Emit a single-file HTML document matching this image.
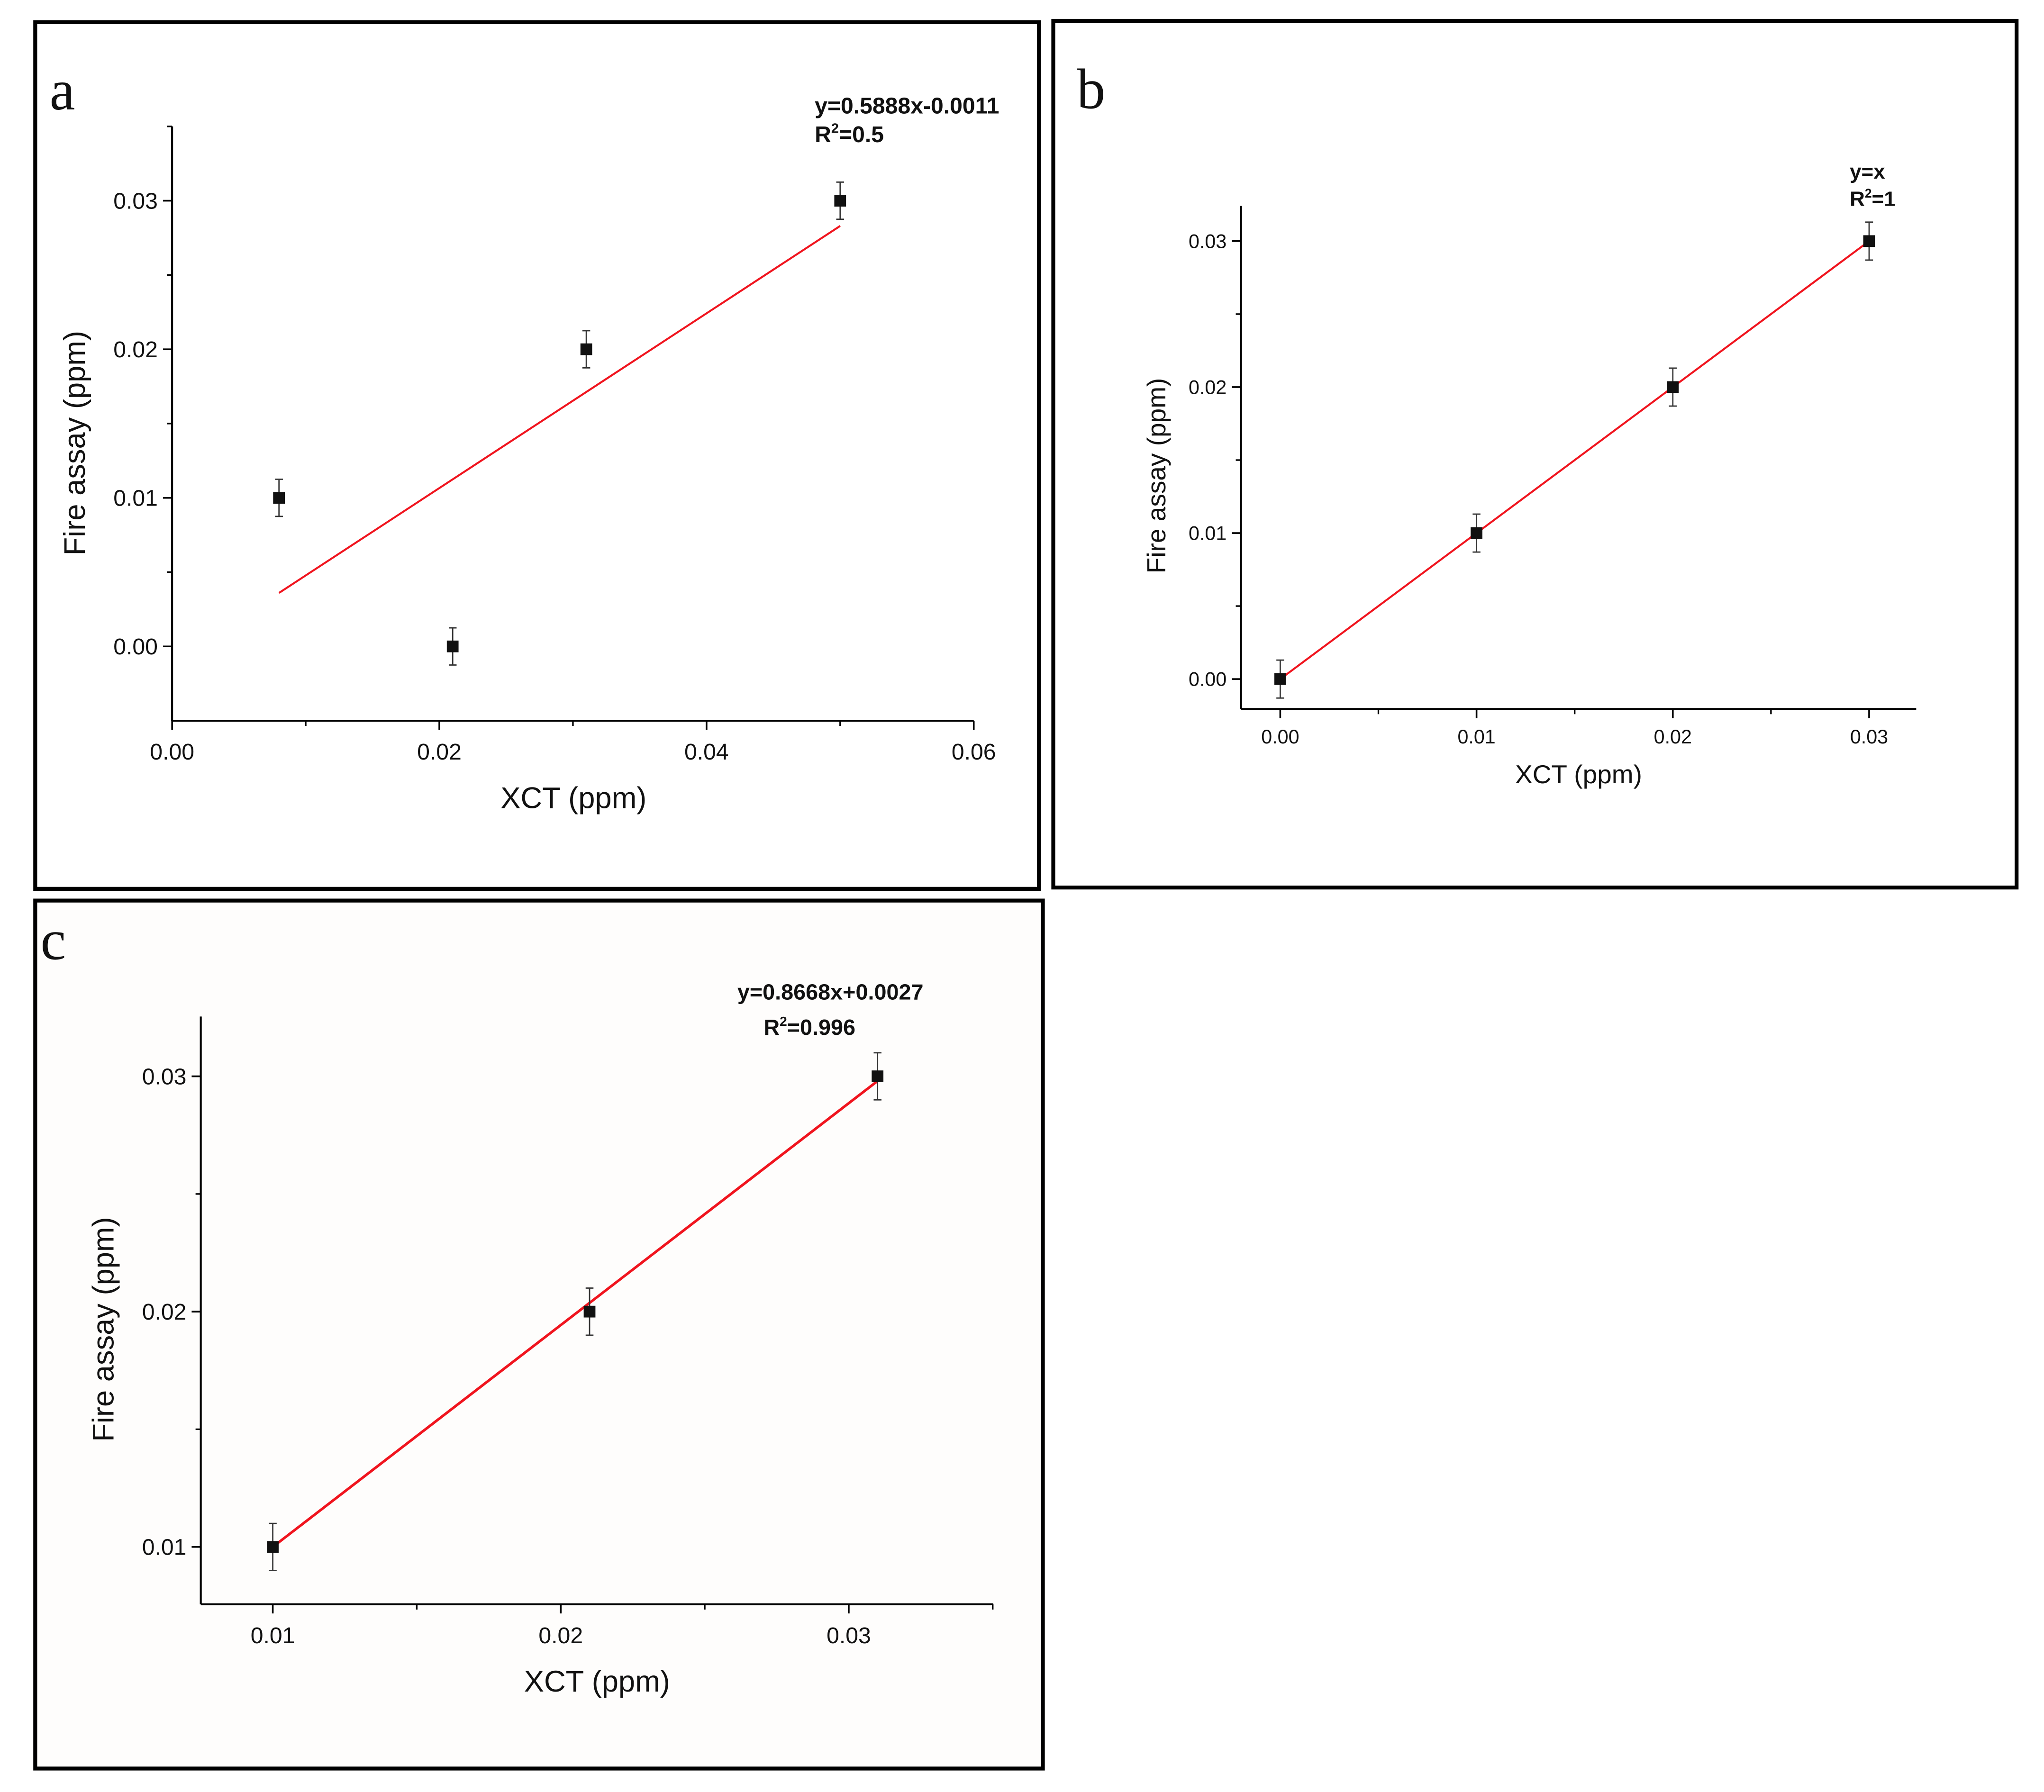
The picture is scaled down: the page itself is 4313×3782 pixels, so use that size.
<!DOCTYPE html>
<html>
<head>
<meta charset="utf-8">
<style>
html,body{margin:0;padding:0;background:#fff;}
svg{display:block;}
text{font-family:"Liberation Sans",sans-serif;fill:#111;}
</style>
</head>
<body>
<svg id="fig" width="4313" height="3782" viewBox="0 0 1568 1375" xmlns="http://www.w3.org/2000/svg">
<rect x="0" y="0" width="1568" height="1375" fill="#fff"/>
<rect x="27" y="17" width="770" height="665" fill="#fff" stroke="#000" stroke-width="3"/>
<rect x="808" y="16" width="739" height="665" fill="#fff" stroke="#000" stroke-width="3"/>
<rect x="27" y="691" width="773" height="666" fill="#fefdfc" stroke="#000" stroke-width="3"/>
<text x="38" y="84" style="font-family:'Liberation Serif',serif;font-size:44px">a</text>
<text x="826" y="83" style="font-family:'Liberation Serif',serif;font-size:44px">b</text>
<text x="31" y="736" style="font-family:'Liberation Serif',serif;font-size:44px">c</text>
<g id="plots"></g>
</svg>
<script>
// Panel a data
const aX = [0.008, 0.021, 0.031, 0.05];
const aY = [0.01, 0.0, 0.02, 0.03];
const aErr = [0.00125, 0.00125, 0.00125, 0.00125];
const aFitX = [0.008, 0.05];
const aFitY = [0.0036, 0.0283];
const aXTicks = ["0.00", "0.02", "0.04", "0.06"];
const aYTicks = ["0.00", "0.01", "0.02", "0.03"];
// Panel b data
const bX = [0.0, 0.01, 0.02, 0.03];
const bY = [0.0, 0.01, 0.02, 0.03];
const bErr = [0.0013, 0.0013, 0.0013, 0.0013];
const bFitX = [0.0, 0.03];
const bFitY = [0.0, 0.03];
const bXTicks = ["0.00", "0.01", "0.02", "0.03"];
const bYTicks = ["0.00", "0.01", "0.02", "0.03"];
// Panel c data
const cX = [0.01, 0.021, 0.031];
const cY = [0.01, 0.02, 0.03];
const cErr = [0.001, 0.001, 0.001];
const cFitX = [0.01, 0.031];
const cFitY = [0.01, 0.0298];
const cXTicks = ["0.01", "0.02", "0.03"];
const cYTicks = ["0.01", "0.02", "0.03"];

const NS = "http://www.w3.org/2000/svg";
const root = document.getElementById('plots');
function mk(tag, attrs, parent, txt){
  const e = document.createElementNS(NS, tag);
  for (const k in attrs) e.setAttribute(k, attrs[k]);
  if (txt !== undefined) e.textContent = txt;
  parent.appendChild(e);
  return e;
}

function panel(p){
  const g = mk('g', {}, root);
  
  
  const sx = v => p.x0 + (v - p.xmin) / (p.xmax - p.xmin) * (p.x1 - p.x0);
  const sy = v => p.y0 - (v - p.ymin) / (p.ymax - p.ymin) * (p.y0 - p.y1);
  const ax = mk('line', {x1:p.x0, y1:p.y0, x2:p.x1, y2:p.y0, stroke:'#000', 'stroke-width':1.5}, g);
  
  
  const ay = mk('line', {x1:p.x0, y1:p.y0, x2:p.x0, y2:p.y1, stroke:'#000', 'stroke-width':1.5}, g);
  
  
  p.xTicks.forEach((t, i) => {
    const v = parseFloat(t); const x = sx(v);
    mk('line', {x1:x, y1:p.y0, x2:x, y2:p.y0 + 7, stroke:'#000', 'stroke-width':1.3}, g);
    const lb = mk('text', {x:x, y:p.y0 + 7 + p.tfs * 1.3, 'text-anchor':'middle', 'font-size':p.tfs}, g, t);
    
    
    const mx = sx(v + p.xstep / 2);
    if (mx <= p.x1 + 0.5) mk('line', {x1:mx, y1:p.y0, x2:mx, y2:p.y0 + 4, stroke:'#000', 'stroke-width':1.2}, g);
    const mx2 = sx(v - p.xstep / 2);
    if (i === 0 && mx2 >= p.x0 + 2) mk('line', {x1:mx2, y1:p.y0, x2:mx2, y2:p.y0 + 4, stroke:'#000', 'stroke-width':1.2}, g);
  });
  p.yTicks.forEach((t, i) => {
    const v = parseFloat(t); const y = sy(v);
    mk('line', {x1:p.x0, y1:y, x2:p.x0 - 7, y2:y, stroke:'#000', 'stroke-width':1.3}, g);
    const lb = mk('text', {x:p.x0 - 11, y:y + p.tfs * 0.35, 'text-anchor':'end', 'font-size':p.tfs}, g, t);
    
    
    const my = sy(v + p.ystep / 2);
    if (my >= p.y1 - 0.5) mk('line', {x1:p.x0, y1:my, x2:p.x0 - 4, y2:my, stroke:'#000', 'stroke-width':1.2}, g);
    const my2 = sy(v - p.ystep / 2);
    if (i === 0 && my2 <= p.y0 - 2) mk('line', {x1:p.x0, y1:my2, x2:p.x0 - 4, y2:my2, stroke:'#000', 'stroke-width':1.2}, g);
  });
  const xt = mk('text', {x:p.xtx, y:p.xty, 'text-anchor':'middle', 'font-size':p.afs}, g, 'XCT (ppm)');
  
  
  const yt = mk('text', {x:0, y:0, 'text-anchor':'middle', 'font-size':p.afs, transform:'translate(' + p.ytx + ',' + p.yty + ') rotate(-90)'}, g, 'Fire assay (ppm)');
  
  
  const fl = mk('line', {x1:sx(p.fitX[0]), y1:sy(p.fitY[0]), x2:sx(p.fitX[1]), y2:sy(p.fitY[1]), stroke:'#f0141e', 'stroke-width':p.lw}, g);
  
  
  p.X.forEach((xv, i) => {
    const x = sx(xv), y = sy(p.Y[i]);
    const yt1 = sy(p.Y[i] + p.E[i]), yb = sy(p.Y[i] - p.E[i]);
    const eb = mk('path', {d:`M${x},${yt1}V${yb}M${x-3},${yt1}H${x+3}M${x-3},${yb}H${x+3}`, stroke:'#333', 'stroke-width':1, fill:'none'}, g);
    
    
    const m = mk('rect', {x:x - 4.5, y:y - 4.5, width:9, height:9, fill:'#111'}, g);
    
    
  });
  p.eq.forEach((e) => {
    const t = mk('text', {x:e[1], y:e[2], 'font-size':p.efs, 'font-weight':'bold', 'text-anchor':e[3] || 'start'}, g);
    
    
    if (e[0].indexOf('R2') === 0) {
      mk('tspan', {}, t, 'R');
      mk('tspan', {'font-size':p.efs * 0.6, dy:-p.efs * 0.4}, t, '2');
      mk('tspan', {dy:p.efs * 0.4}, t, e[0].slice(2));
    } else t.textContent = e[0];
  });
}

panel({id:'panel-a', x0:132, x1:747, y0:553, y1:97, xmin:0, xmax:0.06, ymin:-0.005, ymax:0.035,
  xstep:0.02, ystep:0.01, X:aX, Y:aY, E:aErr, fitX:aFitX, fitY:aFitY, xTicks:aXTicks, yTicks:aYTicks,
  tfs:17.5, afs:23, efs:17.5, lw:1.5, xtx:440, xty:620, ytx:65, yty:340,
  eq:[['y=0.5888x-0.0011', 625, 87], ['R2=0.5', 625, 109]]});
panel({id:'panel-b', x0:952, x1:1470, y0:544, y1:158, xmin:-0.002, xmax:0.0324, ymin:-0.00205, ymax:0.03241,
  xstep:0.01, ystep:0.01, X:bX, Y:bY, E:bErr, fitX:bFitX, fitY:bFitY, xTicks:bXTicks, yTicks:bYTicks,
  tfs:15, afs:20, efs:16, lw:1.5, xtx:1211, xty:601, ytx:894, yty:365,
  eq:[['y=x', 1419, 137], ['R2=1', 1419, 158]]});
panel({id:'panel-c', x0:154, x1:762, y0:1231, y1:780, xmin:0.0075, xmax:0.03502, ymin:0.00756, ymax:0.03254,
  xstep:0.01, ystep:0.01, X:cX, Y:cY, E:cErr, fitX:cFitX, fitY:cFitY, xTicks:cXTicks, yTicks:cYTicks,
  tfs:17.5, afs:23, efs:17, lw:2, xtx:458, xty:1298, ytx:87, yty:1020,
  eq:[['y=0.8668x+0.0027', 637, 767, 'middle'], ['R2=0.996', 621, 794, 'middle']]});
</script>
</body>
</html>
